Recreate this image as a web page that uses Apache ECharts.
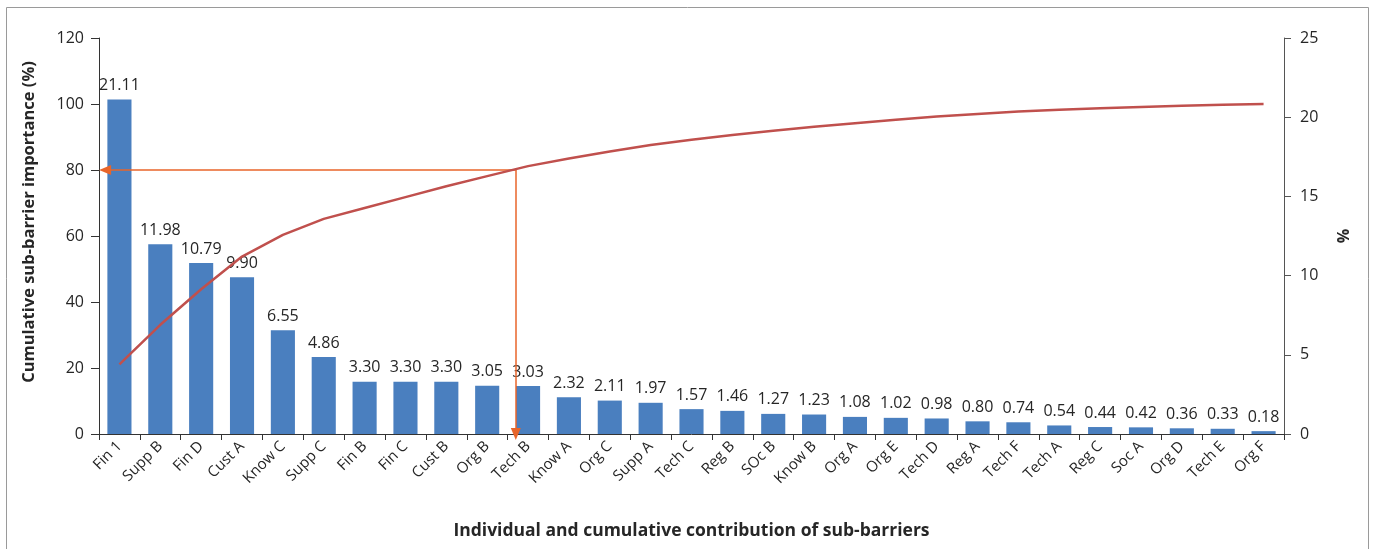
<!DOCTYPE html>
<html>
<head>
<meta charset="utf-8">
<script src="https://cdn.jsdelivr.net/npm/echarts@6/dist/echarts.min.js"></script>
<style>
html,body{margin:0;padding:0;background:#fff;}
#chart{width:1373px;height:549px;}
</style>
</head>
<body>
<div id="chart"></div>
<script>
// ---- data ----
var categories = ['Fin 1','Supp B','Fin D','Cust A','Know C','Supp C','Fin B','Fin C','Cust B','Org B','Tech B','Know A','Org C','Supp A','Tech C','Reg B','SOc B','Know B','Org A','Org E','Tech D','Reg A','Tech F','Tech A','Reg C','Soc A','Org D','Tech E','Org F'];
var shares = [21.11,11.98,10.79,9.90,6.55,4.86,3.30,3.30,3.30,3.05,3.03,2.32,2.11,1.97,1.57,1.46,1.27,1.23,1.08,1.02,0.98,0.80,0.74,0.54,0.44,0.42,0.36,0.33,0.18];
var cumulative = [21.11,33.09,43.88,53.78,60.33,65.19,68.49,71.79,75.09,78.14,81.17,83.49,85.60,87.57,89.14,90.60,91.87,93.10,94.18,95.20,96.18,96.98,97.72,98.26,98.70,99.12,99.48,99.81,99.99];
var leftTicks = [0,20,40,60,80,100,120];
var rightTicks = [0,5,10,15,20,25];
// cutoff annotation (in category-index units / left-axis %)
var cutoffX = 9.7;      // where the cumulative curve crosses 80 %
var cutoffY = 80;
var arrowLeftEnd = -0.35;

var chart = echarts.init(document.getElementById('chart'), null, {renderer:'canvas'});
var FONT = 'Open Sans';
var TXT = '#262626';

var option = {
  animation:false,
  backgroundColor:'#fff',
  textStyle:{fontFamily:FONT},
  graphic:[{
    type:'rect', silent:true, z:-10,
    shape:{x:6.5,y:7.5,width:1362,height:600},
    style:{fill:null,stroke:'#9a9a9a',lineWidth:1}
  }],
  grid:{left:99,right:89,top:38,bottom:115,containLabel:false},
  xAxis:[{
    type:'category',
    data:categories,
    boundaryGap:true,
    axisLine:{lineStyle:{color:'#333',width:1}},
    axisTick:{show:true,alignWithLabel:false,length:6,lineStyle:{color:'#333'}},
    axisLabel:{interval:0,rotate:45,margin:10,fontSize:15,color:TXT,fontFamily:FONT},
    name:'Individual and cumulative contribution of sub-barriers',
    nameLocation:'middle',
    nameGap:88,
    nameTextStyle:{fontSize:17.5,fontWeight:'bold',color:TXT,fontFamily:FONT}
  },{
    type:'value', show:false, min:-0.5, max:28.5
  }],
  yAxis:[{
    type:'value',
    position:'left',
    min:0,max:120,interval:20,
    axisLine:{show:true,onZero:false,lineStyle:{color:'#333'}},
    axisTick:{show:true,length:8,lineStyle:{color:'#333'}},
    axisLabel:{fontSize:16,color:TXT,margin:15,fontFamily:FONT,
      formatter:function(v){return leftTicks.indexOf(v)>=0?String(v):'';}},
    splitLine:{show:false},
    name:'Cumulative sub-barrier importance (%)',
    nameLocation:'middle',
    nameRotate:90,
    nameGap:61,
    nameTextStyle:{fontSize:16.5,fontWeight:'bold',color:TXT,fontFamily:FONT,padding:[0,0,0,28]}
  },{
    type:'value',
    position:'right',
    min:0,max:25,interval:5,
    axisLine:{show:true,onZero:false,lineStyle:{color:'#555'}},
    axisTick:{show:true,length:7,lineStyle:{color:'#555'}},
    axisLabel:{fontSize:16,color:TXT,margin:16,fontFamily:FONT,
      formatter:function(v){return rightTicks.indexOf(v)>=0?String(v):'';}},
    splitLine:{show:false},
    name:'%',
    nameLocation:'middle',
    nameRotate:90,
    nameGap:52,
    nameTextStyle:{fontSize:16,fontWeight:'bold',color:TXT,fontFamily:FONT}
  }],
  series:[{
    name:'Share',
    type:'bar',
    xAxisIndex:0,
    yAxisIndex:1,
    data:shares,
    barWidth:'59%',
    itemStyle:{color:'#4A7FBF'},
    label:{show:true,position:'top',distance:6,fontSize:16,color:TXT,fontFamily:FONT,
      formatter:function(p){return p.value.toFixed(2);}},
    z:2
  },{
    name:'Cumulative',
    type:'line',
    xAxisIndex:0,
    yAxisIndex:0,
    data:cumulative,
    symbol:'none',
    smooth:false,
    lineStyle:{color:'#C0504D',width:2.5},
    z:5
  },{
    name:'Cutoff',
    type:'line',
    xAxisIndex:1,
    yAxisIndex:0,
    data:[[cutoffX,cutoffY]],
    symbol:'none',
    lineStyle:{opacity:0},
    z:4,
    markLine:{
      silent:true,
      animation:false,
      symbol:['none','triangle'],
      symbolSize:[10,12],
      label:{show:false},
      lineStyle:{color:'#E8652A',width:1.5,type:'solid'},
      emphasis:{disabled:true},
      data:[
        [{coord:[cutoffX,cutoffY]},{coord:[arrowLeftEnd,cutoffY]}],
        [{coord:[cutoffX,cutoffY]},{coord:[cutoffX,0]}]
      ]
    }
  }]
};
chart.setOption(option);
</script>
</body>
</html>
